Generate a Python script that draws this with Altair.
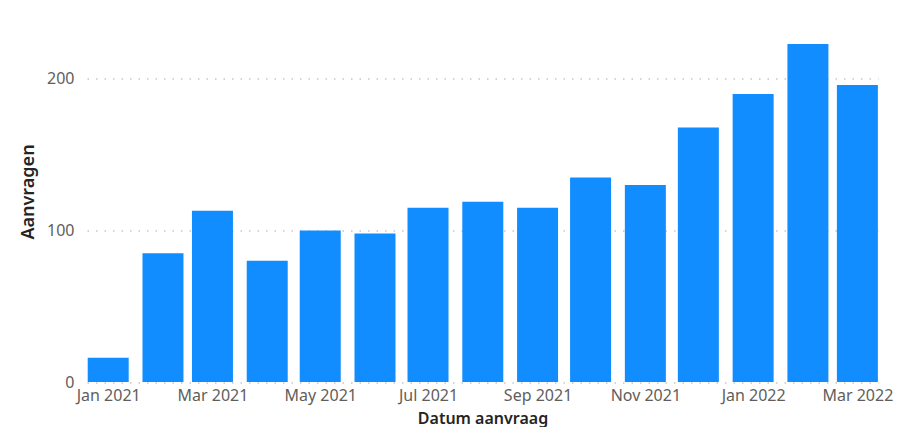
import altair as alt
import pandas as pd

months = ["2021-01-01", "2021-02-01", "2021-03-01", "2021-04-01", "2021-05-01",
          "2021-06-01", "2021-07-01", "2021-08-01", "2021-09-01", "2021-10-01",
          "2021-11-01", "2021-12-01", "2022-01-01", "2022-02-01", "2022-03-01"]
aanvragen = [16, 85, 113, 80, 100, 98, 115, 119, 115, 135, 130, 168, 190, 223, 196]
tick_months = [(2021, 1), (2021, 3), (2021, 5), (2021, 7), (2021, 9), (2021, 11), (2022, 1), (2022, 3)]
y_ticks = [0, 100, 200]

df = pd.DataFrame({"Datum aanvraag": months, "Aanvragen": aanvragen})

FONT = "Noto Sans"

x_values = [alt.DateTime(year=y, month=m, date=1, utc=True) for y, m in tick_months]

chart = alt.Chart(df).mark_bar(size=41, color="#118DFF").encode(
    x=alt.X(
        "Datum aanvraag:T",
        scale=alt.Scale(
            type="utc",
            padding=0,
            domain=[alt.DateTime(year=2020, month=12, date=20, utc=True),
                    alt.DateTime(year=2022, month=3, date=12, hours=16, utc=True)],
        ),
        axis=alt.Axis(
            values=x_values, format="%b %Y", grid=False, domain=False, ticks=False,
            labelColor="#605E5C", labelFontSize=16, labelFont=FONT, labelPadding=5,
            labelFlush=False, labelOverlap=False,
            title="Datum aanvraag", titleColor="#252423", titleFontSize=16,
            titleFont=FONT, titleFontWeight=600,
            titleBaseline="alphabetic", titleY=41,
        ),
    ),
    y=alt.Y(
        "Aanvragen:Q",
        scale=alt.Scale(domain=[0, 230], nice=False, zero=True),
        axis=alt.Axis(
            values=y_ticks, grid=True, gridDash=[1.5, 7], gridColor="#C8C6C4",
            gridWidth=1.3, domain=False, ticks=False,
            labelColor="#605E5C", labelFontSize=16, labelFont=FONT, labelPadding=13,
            title="Aanvragen", titleColor="#252423", titleFontSize=18,
            titleFont=FONT, titleFontWeight=600, titlePadding=9, titleY=158,
        ),
    ),
).properties(
    width=791,
    height=348.5,
    autosize=alt.AutoSizeParams(type="none"),
    padding={"left": 79, "top": 25.5, "right": 16, "bottom": 45},
).configure_view(stroke=None)

chart.save("out.html", embed_options={"renderer": "svg", "actions": False})
